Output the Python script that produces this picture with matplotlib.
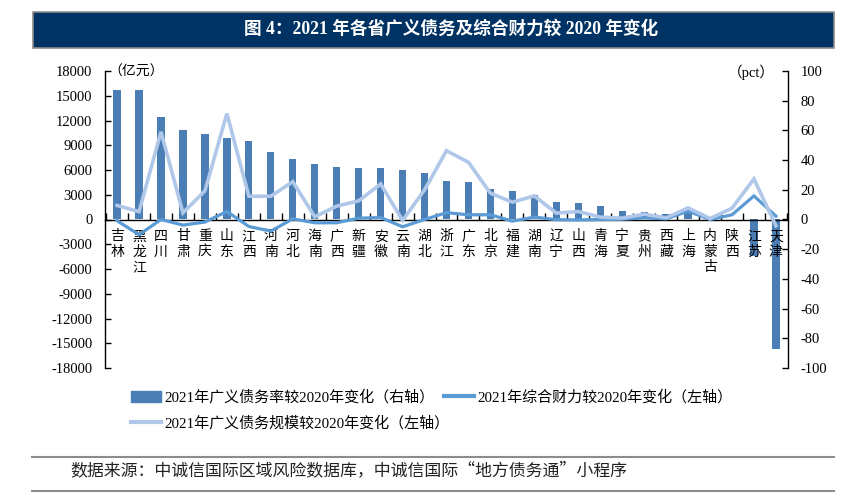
import numpy as np
import matplotlib
matplotlib.use('Agg')
from matplotlib import pyplot as plt
from matplotlib.patches import Rectangle
from matplotlib.lines import Line2D

# 数据
provinces = ['吉林', '黑龙江', '四川', '甘肃', '重庆', '山东', '江西', '河南', '河北', '海南',
             '广西', '新疆', '安徽', '云南', '湖北', '浙江', '广东', '北京', '福建', '湖南',
             '辽宁', '山西', '青海', '宁夏', '贵州', '西藏', '上海', '内蒙古', '陕西', '江苏', '天津']
# 2021年广义债务率较2020年变化 (pct, 右轴)
debt_ratio_chg = [87.2, 87.2, 68.9, 60.2, 57.3, 55.0, 52.8, 45.2, 40.7, 37.6,
                  35.4, 34.5, 34.5, 33.4, 31.1, 26.1, 25.1, 20.4, 19.3, 16.6,
                  12.1, 11.0, 9.0, 5.4, 4.8, 4.0, 5.0, 0.5, 0.4, -24.5, -87.0]
# 2021年综合财力较2020年变化 (亿元, 左轴)
revenue_chg = [-150, -1850, 0, -680, -310, 970, -850, -1410, 80, -400,
               -400, 160, 240, -880, 0, 830, 570, 570, -200, 290,
               -20, -50, 0, 30, 200, 80, 1010, 0, 570, 2860, 410]
# 2021年广义债务规模较2020年变化 (亿元, 左轴)
scale_chg = [1700, 950, 10630, 810, 3470, 12850, 2820, 2820, 4590, 330,
             1620, 2260, 4310, -120, 3590, 8340, 6930, 3190, 2100, 2860,
             770, 970, 290, 170, 650, 200, 1410, 120, 1370, 4920, -760]

left_ticks = np.arange(-18000, 18001, 3000)
right_ticks = np.arange(-100, 101, 20)

bar_color = '#4A7EB4'
dark_line = '#5B9BD5'
light_line = '#AFC7E8'
navy = '#003263'

num_font = ['Liberation Serif', 'Noto Sans CJK SC']
plt.rcParams['font.family'] = num_font
plt.rcParams['axes.unicode_minus'] = False

W, H = 858, 497
fig = plt.figure(figsize=(W / 100, H / 100), dpi=100)

def fx(px):
    return px / W

def fy(py):
    return 1 - py / H

ax = fig.add_axes([fx(105), fy(368), fx(788) - fx(105), fy(71) - fy(368)])
ax2 = ax.twinx()
ax.set_zorder(ax2.get_zorder() + 1)
ax.patch.set_visible(False)

x = np.arange(len(provinces))
ax2.bar(x, debt_ratio_chg, width=0.33, color=bar_color, zorder=2)
ax.plot(x, revenue_chg, color=dark_line, lw=2.3, solid_joinstyle='miter', zorder=3)
ax.plot(x, scale_chg, color=light_line, lw=2.6, solid_joinstyle='miter', zorder=4)

ax.set_xlim(-0.55, len(provinces) - 0.45)
ax.set_ylim(-18000, 18000)
ax2.set_ylim(-100, 100)
ax.set_yticks(left_ticks)
ax2.set_yticks(right_ticks)

for a in (ax, ax2):
    a.spines['top'].set_visible(False)
ax2.spines['bottom'].set_visible(False)
ax2.spines['left'].set_visible(False)
ax.spines['right'].set_visible(False)
ax.spines['bottom'].set_position(('data', 0))
for s in ('left', 'bottom'):
    ax.spines[s].set_linewidth(1.0)
ax2.spines['right'].set_linewidth(1.0)

ax.tick_params(axis='y', direction='in', length=4, width=1, pad=9, labelsize=10.5)
ax2.tick_params(axis='y', direction='in', length=4, width=1, pad=9, labelsize=10.5)

# x轴: 类别边界刻度 + 竖排省份名
ax.set_xticks(np.arange(-0.5, len(provinces), 1))
ax.set_xticklabels([])
ax.tick_params(axis='x', which='major', direction='in', length=5, width=1)
ax.set_xticks(x, minor=True)
ax.set_xticklabels(['\n'.join(p) for p in provinces], minor=True,
                   fontsize=10, linespacing=1.12, family=['Noto Sans CJK SC'])
ax.tick_params(axis='x', which='minor', length=0, pad=7)

ax.text(fx(108), fy(72), '（亿元）', transform=fig.transFigure, fontsize=10,
        family=['Noto Sans CJK SC'], va='center', ha='left')
ax.text(fx(775), fy(72), '（pct）', transform=fig.transFigure, fontsize=10.5,
        family=num_font, va='center', ha='right')

# 标题栏
fig.patches.append(Rectangle((fx(33), fy(48)), fx(834) - fx(33), fy(12) - fy(48),
                             transform=fig.transFigure, facecolor=navy,
                             edgecolor='#8C8C8C', lw=1.2))
fig.text(fx(451), fy(29), '图 4：2021 年各省广义债务及综合财力较 2020 年变化',
         color='white', fontsize=12.7, fontweight='bold', ha='center', va='center',
         family=num_font)

# 图例
h_bar = Rectangle((0, 0), 1, 1, color=bar_color)
h_light = Line2D([], [], color=light_line, lw=3)
h_dark = Line2D([], [], color=dark_line, lw=3)
fig.legend([h_bar, h_light],
           ['2021年广义债务率较2020年变化（右轴）', '2021年广义债务规模较2020年变化（左轴）'],
           loc='upper left', bbox_to_anchor=(fx(131), fy(390)), frameon=False,
           prop={'family': num_font, 'size': 10.8}, handlelength=2.0,
           handletextpad=0.2, labelspacing=0.7, borderpad=0, borderaxespad=0)
fig.legend([h_dark], ['2021年综合财力较2020年变化（左轴）'],
           loc='upper left', bbox_to_anchor=(fx(444), fy(390)), frameon=False,
           prop={'family': num_font, 'size': 10.8}, handlelength=2.0,
           handletextpad=0.2, borderpad=0, borderaxespad=0)

# 数据来源
for py in (457, 491):
    fig.add_artist(Line2D([fx(32), fx(834)], [fy(py), fy(py)], transform=fig.transFigure,
                          color='#8C8C8C', lw=1.5))
fig.text(fx(70), fy(470), '数据来源：中诚信国际区域风险数据库，中诚信国际“地方债务通”小程序',
         fontsize=12.2, color='#222222', ha='left', va='center', style='italic',
         family=['Noto Sans CJK SC'])

fig.savefig('out.png', dpi=100)
